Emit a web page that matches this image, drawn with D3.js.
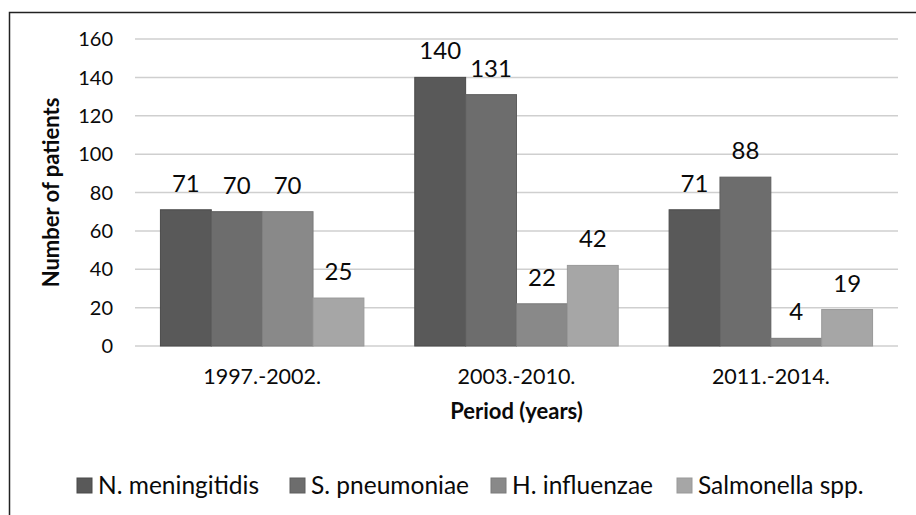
<!DOCTYPE html>
<html>
<head>
<meta charset="utf-8">
<script src="https://cdn.jsdelivr.net/npm/d3@7"></script>
<style>
  body { margin: 0; background: #fff; }
  text { font-family: Lato, "Open Sans", sans-serif; fill: #0a0a0a; }
</style>
</head>
<body>
<div id="chart"></div>
<script>
// data
const periods = ["1997.-2002.", "2003.-2010.", "2011.-2014."];
const pathogens = ["N. meningitidis", "S. pneumoniae", "H. influenzae", "Salmonella spp."];
const meningitidis = [71, 140, 71];
const pneumoniae = [70, 131, 88];
const influenzae = [70, 22, 4];
const salmonella = [25, 42, 19];
const yTicks = [0, 20, 40, 60, 80, 100, 120, 140, 160];

const seriesValues = [meningitidis, pneumoniae, influenzae, salmonella];
const fills = ["#595959", "#6d6d6d", "#898989", "#a6a6a6"];
const strokes = ["#4a4a4a", "#5e5e5e", "#7b7b7b", "#999"];

const width = 916, height = 515;
const plot = { left: 135, right: 898, top: 39, bottom: 346 };

const svg = d3.select("#chart").append("svg")
  .attr("width", width)
  .attr("height", height);

// outer frame (only top and left edges visible in the crop)
svg.append("path")
  .attr("d", `M9.5,${height} V12.5 H${width}`)
  .attr("fill", "none")
  .attr("stroke", "#222")
  .attr("stroke-width", 1.5);

const y = d3.scaleLinear().domain([0, 160]).range([plot.bottom, plot.top]);
const x0 = d3.scaleBand().domain(periods).range([plot.left, plot.right]).paddingInner(0.2).paddingOuter(0.1);
const x1 = d3.scaleBand().domain(pathogens).range([0, x0.bandwidth()]);

// gridlines
svg.append("g")
  .selectAll("line")
  .data(yTicks)
  .join("line")
  .attr("x1", plot.left)
  .attr("x2", plot.right)
  .attr("y1", d => y(d))
  .attr("y2", d => y(d))
  .attr("stroke", "#cfcfcf")
  .attr("stroke-width", 1.5);

// y tick labels
svg.append("g")
  .selectAll("text")
  .data(yTicks)
  .join("text")
  .attr("x", 113)
  .attr("y", d => y(d))
  .attr("dy", "0.36em")
  .attr("text-anchor", "end")
  .style("font-size", "20px")
  .text(d => d);

// bars
const groups = svg.append("g")
  .selectAll("g")
  .data(periods)
  .join("g")
  .attr("transform", d => `translate(${x0(d)},0)`);

const cells = (p, i) => pathogens.map((name, k) => ({ name, k, value: seriesValues[k][i] }));

groups.selectAll("rect")
  .data(cells)
  .join("rect")
  .attr("x", d => x1(d.name))
  .attr("y", d => y(d.value))
  .attr("width", x1.bandwidth())
  .attr("height", d => y(0) - y(d.value))
  .attr("fill", d => fills[d.k])
  .attr("stroke", d => strokes[d.k])
  .attr("stroke-width", 1);

groups.selectAll("text")
  .data(cells)
  .join("text")
  .attr("x", d => x1(d.name) + x1.bandwidth() / 2)
  .attr("y", d => y(d.value) - 18)
  .attr("text-anchor", "middle")
  .style("font-size", "24px")
  .text(d => d.value);

// x labels
svg.append("g")
  .selectAll("text")
  .data(periods)
  .join("text")
  .attr("x", d => x0(d) + x0.bandwidth() / 2)
  .attr("y", 384)
  .attr("text-anchor", "middle")
  .style("font-size", "21.5px")
  .text(d => d);

// axis titles
svg.append("text")
  .attr("x", (plot.left + plot.right) / 2)
  .attr("y", 419)
  .attr("text-anchor", "middle")
  .style("font-size", "22px")
  .style("font-weight", "bold")
  .text("Period (years)");

svg.append("text")
  .attr("transform", `translate(59,${(plot.top + plot.bottom) / 2}) rotate(-90)`)
  .attr("text-anchor", "middle")
  .style("font-size", "22px")
  .style("font-weight", "bold")
  .text("Number of patients");

// legend
const legendX = [77, 290, 491, 677];
const legend = svg.append("g")
  .selectAll("g")
  .data(pathogens)
  .join("g")
  .attr("transform", (d, i) => `translate(${legendX[i]},478)`);

legend.append("rect")
  .attr("width", 15)
  .attr("height", 15)
  .attr("fill", (d, i) => fills[i])
  .attr("stroke", (d, i) => strokes[i]);

legend.append("text")
  .attr("x", 21)
  .attr("y", 7.5)
  .attr("dy", "0.36em")
  .style("font-size", "24.5px")
  .text(d => d);
</script>
</body>
</html>
